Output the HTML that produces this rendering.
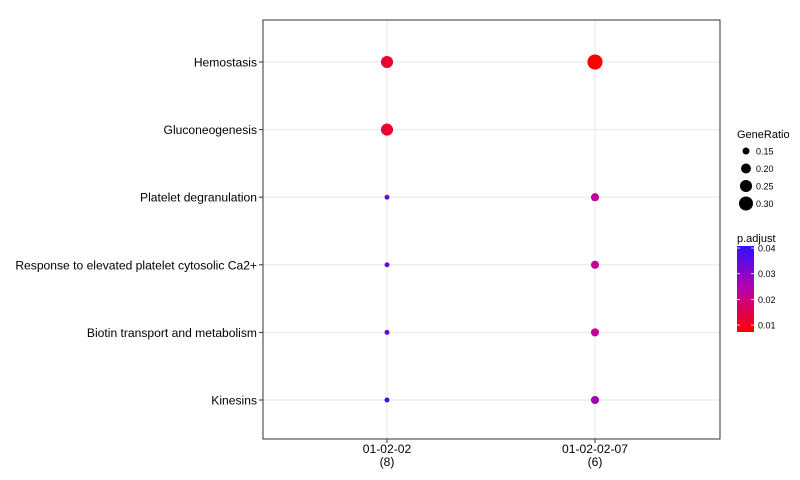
<!DOCTYPE html>
<html><head><meta charset="utf-8"><style>
html,body{margin:0;padding:0;background:#fff;}
svg{display:block;font-family:"Liberation Sans",sans-serif;}
</style></head><body>
<svg id="chart" width="800" height="480" xmlns="http://www.w3.org/2000/svg">
<defs><linearGradient id="grad" x1="0" y1="1" x2="0" y2="0">
<stop offset="0" stop-color="#ff0000"/><stop offset="0.5" stop-color="#b800a8"/><stop offset="1" stop-color="#3010ff"/>
</linearGradient></defs>
</svg>
<script>
const clusters = ["01-02-02\n(8)", "01-02-02-07\n(6)"];
const terms = ["Hemostasis","Gluconeogenesis","Platelet degranulation","Response to elevated platelet cytosolic Ca2+","Biotin transport and metabolism","Kinesins"];
const ratioC1 = [0.25,0.25,0.125,0.125,0.125,0.125];
const padjC1 = [0.012,0.012,0.035,0.035,0.035,0.042];
const ratioC2 = [0.333,null,0.167,0.167,0.167,0.167];
const padjC2 = [0.006,null,0.022,0.022,0.022,0.027];
const sizeTicks = [0.15,0.20,0.25,0.30];
const colorTicks = [0.01,0.02,0.03,0.04];

const svg = document.getElementById('chart');
const NS = "http://www.w3.org/2000/svg";
function mk(tag, attrs, parent){const e=document.createElementNS(NS,tag);for(const k in attrs)e.setAttribute(k,attrs[k]);(parent||svg).appendChild(e);return e;}
const L=263,R=720,T=20,B=439;
const xPos = i => 387 + i*208;
const yPos = i => 62 + i*67.6;
const rScale = v => Math.sqrt(Math.max(3.5, -24.5 + 245*v));
const pMin=0.0073,pMax=0.0408;
function colorOf(p){let t=(p-pMin)/(pMax-pMin);t=Math.max(0,Math.min(1,t));
 const a=[255,0,0],m=[184,0,168],b=[48,16,255];let c;
 if(t<0.5){const u=t/0.5;c=a.map((v,i)=>v+(m[i]-v)*u);}else{const u=(t-0.5)/0.5;c=m.map((v,i)=>v+(b[i]-v)*u);}
 return `rgb(${c.map(Math.round).join(',')})`;}

const bg=mk('rect',{x:L,y:T,width:R-L,height:B-T,fill:'#fff'});


terms.forEach((t,i)=>{
 const g=mk('line',{x1:L,x2:R,y1:yPos(i),y2:yPos(i),stroke:'#ebebeb','stroke-width':1.2});
 
 
 mk('line',{x1:L-4,x2:L,y1:yPos(i),y2:yPos(i),stroke:'#333'});
 const tx=mk('text',{x:L-6,y:yPos(i)+4.5,'text-anchor':'end','font-size':12.1,fill:'#000'});tx.textContent=t;
 
 
});
clusters.forEach((c,i)=>{
 const g=mk('line',{x1:xPos(i),x2:xPos(i),y1:T,y2:B,stroke:'#ebebeb','stroke-width':1.2});
 
 
 mk('line',{x1:xPos(i),x2:xPos(i),y1:B,y2:B+4,stroke:'#333'});
 c.split('\n').forEach((ln,j)=>{const tx=mk('text',{x:xPos(i),y:453+j*13,'text-anchor':'middle','font-size':12.1,fill:'#000'});tx.textContent=ln;
 
 });
});
[[ratioC1,padjC1],[ratioC2,padjC2]].forEach(([rs,ps],ci)=>{
 rs.forEach((r,i)=>{if(r==null)return;const d=mk('circle',{cx:xPos(ci),cy:yPos(i),r:rScale(r),fill:colorOf(ps[i])});
 
 });
});
const fr=mk('rect',{x:L,y:T,width:R-L,height:B-T,fill:'none',stroke:'#333','stroke-width':1});



let t=mk('text',{x:737,y:138,'font-size':11,fill:'#000'});t.textContent='GeneRatio';


sizeTicks.forEach((v,i)=>{const y=151+i*17.5;
 const c=mk('circle',{cx:746,cy:y,r:rScale(v),fill:'#000'});
 
 
 const tx=mk('text',{x:756,y:y+3.5,'font-size':9,fill:'#000'});tx.textContent=v.toFixed(2);
 
 });
t=mk('text',{x:737,y:242,'font-size':11,fill:'#000'});t.textContent='p.adjust';


const bar=mk('rect',{x:737,y:246,width:17,height:86,fill:'url(#grad)'});


colorTicks.forEach(v=>{const y=332-(v-pMin)/(pMax-pMin)*86;
 mk('line',{x1:737,x2:740,y1:y,y2:y,stroke:'#fff','stroke-width':0.8});
 mk('line',{x1:751,x2:754,y1:y,y2:y,stroke:'#fff','stroke-width':0.8});
 const tx=mk('text',{x:758,y:y+3.5,'font-size':9,fill:'#000'});tx.textContent=v.toFixed(2);
 
 });
</script>
</body></html>
